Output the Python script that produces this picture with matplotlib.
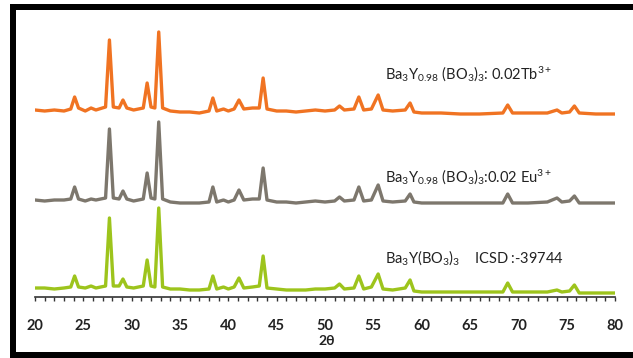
import numpy as np
import matplotlib
matplotlib.use("Agg")
from matplotlib import pyplot as plt
from matplotlib.patches import Rectangle

plt.rcParams['font.family'] = ['Lato', 'DejaVu Sans']
plt.rcParams['mathtext.default'] = 'regular'

# 2theta positions of the traced vertices
two_theta = [20, 21, 22, 23, 23.7, 24.1, 24.5, 25.2, 25.8, 26.3, 27.3, 27.7, 28.1, 28.7,
             29.1, 29.5, 30.2, 31.2, 31.6, 32.0, 32.4, 32.8, 33.2, 34, 35, 36, 37, 38.0,
             38.4, 38.8, 39.5, 40.0, 40.6, 41.1, 41.6, 42.5, 43.2, 43.6, 44.0, 45, 46, 47,
             48, 49, 50, 51.0, 51.5, 52.0, 53.0, 53.5, 54.0, 54.8, 55.5, 56.0, 57, 58.3,
             58.8, 59.2, 60, 62, 64, 66, 68.4, 68.9, 69.4, 71, 73, 74.0, 74.5, 75.3, 75.8,
             76.3, 78, 80]

# intensities (a.u.), each trace relative to its own baseline
tb_doped = [0, -1, 0, -1, 1, 13, 2, -1, 2, 0, 3, 70, 3, 2,
            10, 2, 0, 2, 27, 3, 2, 78, 2, -1, -2, -2, -3, -1,
            12, -1, 1, -1, 1, 10, 1, 2, 2, 32, 1, -1, -1, -2,
            -1, 0, -1, 0, 4, 0, 1, 13, 0, 1, 15, 0, -1, 0,
            7, -2, -3, -3, -4, -4, -3, 5, -3, -3, -3, 0, -3, -2, 4,
            -3, -4, -4]
eu_doped = [0, -1, 0, 0, 1, 13, 1, -1, 1, 0, 2, 71, 2, 1,
            9, 1, -1, 1, 27, 2, 1, 78, 1, -2, -3, -3, -3, -2,
            13, -2, 0, -2, 0, 10, 0, 1, 1, 32, 0, -2, -2, -3,
            -2, -1, -2, -1, 3, -1, 0, 13, -1, 0, 15, -1, -2, -1,
            6, -2, -3, -3, -3, -3, -3, 6, -3, -3, -2, 2, -2, -1, 4,
            -3, -3, -3]
icsd_ref = [0, 0, -1, 0, 1, 12, 1, 0, 2, 0, 2, 70, 2, 2,
            9, 1, 0, 2, 28, 2, 1, 80, 1, -1, -1, -2, -2, -1,
            12, -1, 1, -1, 1, 10, 0, 1, 2, 32, 0, -1, -2, -2,
            -2, -1, -1, 0, 4, -1, 0, 12, -1, 1, 14, -1, -2, 0,
            8, -3, -4, -4, -4, -4, -4, 5, -4, -4, -4, -2, -4, -3, 3,
            -5, -5, -5]

offsets = [178, 88, 0]
colors = ['#F07322', '#7D776D', '#9DC41C']
labels = ['Ba$_3$Y$_{0.98}$ (BO$_3$)$_3$: 0.02Tb$^{3+}$',
          'Ba$_3$Y$_{0.98}$ (BO$_3$)$_3$:0.02 Eu$^{3+}$',
          'Ba$_3$Y(BO$_3$)$_3$    ICSD :-39744']
label_y = [214, 111, 30]

xticks = [20, 25, 30, 35, 40, 45, 50, 55, 60, 65, 70, 75, 80]

fig = plt.figure(figsize=(6.33, 3.58), dpi=100)
ax = fig.add_axes([35 / 633, 61 / 358, 580 / 633, 277 / 358])

x = np.array(two_theta)
for ys, off, col in zip([tb_doped, eu_doped, icsd_ref], offsets, colors):
    ax.plot(x, np.array(ys) + off, color=col, lw=2.4, solid_joinstyle='round')

for lab, ly in zip(labels, label_y):
    ax.text(56.2, ly, lab, fontsize=10.5, color='#222222', va='center', ha='left')

ax.set_xlim(20, 80)
ax.set_ylim(-9, 268)
ax.set_xticks(xticks)
ax.set_xticks(np.arange(20, 81, 1), minor=True)
ax.set_xticklabels([str(t) for t in xticks], fontsize=10.5, fontweight='bold', color='#222222')
ax.tick_params(axis='x', which='both', direction='out', length=3, width=1, color='#333333', pad=13)
ax.set_yticks([])
for s in ['left', 'right', 'top']:
    ax.spines[s].set_visible(False)
ax.spines['bottom'].set_color('#333333')
ax.spines['bottom'].set_linewidth(1.2)

fig.text(327 / 633, 1 - 341 / 358, '2θ', fontsize=10, fontweight='bold', color='#222222',
         ha='center', va='center')

# thick black frame (left, top, bottom; right edge is cut off), in pixel boxes from the top-left
frame_boxes = [(10, 4, 6, 354),    # left
               (10, 4, 623, 6),    # top
               (10, 352, 623, 6)]  # bottom
for bx, by, bw, bh in frame_boxes:
    fig.add_artist(Rectangle((bx / 633, 1 - (by + bh) / 358), bw / 633, bh / 358,
                             transform=fig.transFigure, facecolor='black',
                             edgecolor='none', zorder=10))

fig.savefig('out.png', dpi=100)
